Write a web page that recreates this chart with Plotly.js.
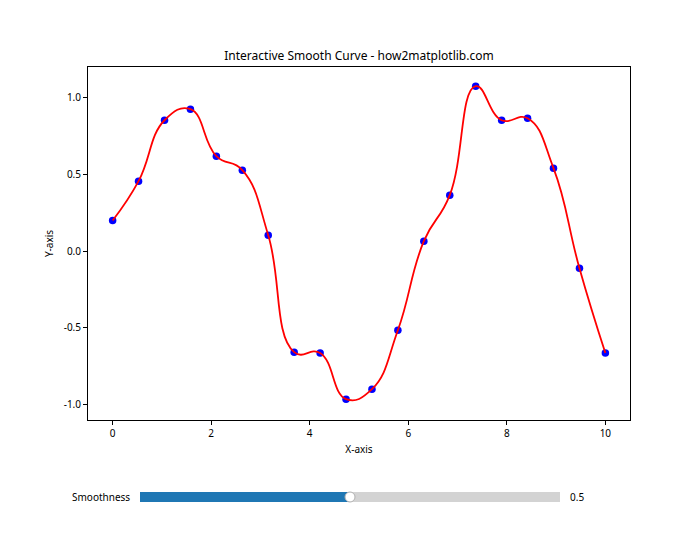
<!DOCTYPE html>
<html>
<head>
<meta charset="utf-8">
<script src="https://cdn.plot.ly/plotly-3.0.1.min.js"></script>
<style>
  html, body { margin: 0; padding: 0; background: #fff; }
  #chart { width: 700px; height: 560px; }
</style>
</head>
<body>
<div id="chart"></div>
<script>
// ---- data ----
const xValues = [0, 0.526, 1.053, 1.579, 2.105, 2.632, 3.158, 3.684, 4.211, 4.737,
                 5.263, 5.789, 6.316, 6.842, 7.368, 7.895, 8.421, 8.947, 9.474, 10];
const yValues = [0.20, 0.456, 0.853, 0.925, 0.619, 0.528, 0.104, -0.658, -0.664, -0.964,
                 -0.899, -0.515, 0.065, 0.365, 1.075, 0.853, 0.866, 0.541, -0.111, -0.664];
const xTicks = [0, 2, 4, 6, 8, 10];
const yTicks = [-1.0, -0.5, 0.0, 0.5, 1.0];
const sliderLabel = "Smoothness";
const sliderMin = 0;
const sliderMax = 1;
const sliderValue = 0.5;

const FONT = "Noto Sans, Liberation Sans, sans-serif";

const traces = [
  {
    x: xValues, y: yValues, type: "scatter", mode: "markers",
    marker: { color: "blue", size: 7.5 },
    xaxis: "x", yaxis: "y", showlegend: false, hoverinfo: "skip"
  },
  {
    x: xValues, y: yValues, type: "scatter", mode: "lines",
    line: { color: "red", width: 1.8, shape: "spline", smoothing: 1.3 },
    xaxis: "x", yaxis: "y", showlegend: false, hoverinfo: "skip"
  },
  {
    x: [sliderValue], y: [0.5], type: "scatter", mode: "markers",
    marker: { color: "white", size: 10, line: { color: "#b0b0b0", width: 1 } },
    xaxis: "x2", yaxis: "y2", showlegend: false, hoverinfo: "skip", cliponaxis: false
  }
];

const layout = {
  width: 700, height: 560,
  paper_bgcolor: "white", plot_bgcolor: "white",
  margin: { l: 88, r: 70, t: 67, b: 50 },
  font: { family: FONT, size: 10, color: "black" },
  title: {
    text: "Interactive Smooth Curve - how2matplotlib.com",
    font: { family: FONT, size: 12, color: "black" },
    xref: "paper", x: 0.5, xanchor: "center", y: 1 - 56 / 560, yanchor: "middle"
  },
  xaxis: {
    domain: [0, 1], anchor: "y",
    range: [-0.5, 10.5],
    tickvals: xTicks, ticktext: xTicks.map(v => String(v)),
    ticks: "outside", ticklen: 4, tickwidth: 1, tickcolor: "black",
    showline: true, linecolor: "black", linewidth: 1, mirror: true,
    showgrid: false, zeroline: false,
    tickfont: { family: FONT, size: 10, color: "black" },
    title: { text: "X-axis", font: { family: FONT, size: 10, color: "black" }, standoff: 6 }
  },
  yaxis: {
    domain: [(510 - 420) / 443, 1], anchor: "x",
    range: [-1.10, 1.20],
    tickvals: yTicks, ticktext: yTicks.map(v => v.toFixed(1)),
    ticks: "outside", ticklen: 4, tickwidth: 1, tickcolor: "black",
    showline: true, linecolor: "black", linewidth: 1, mirror: true,
    showgrid: false, zeroline: false,
    tickfont: { family: FONT, size: 10, color: "black" },
    title: { text: "Y-axis", font: { family: FONT, size: 10, color: "black" }, standoff: 8 }
  },
  xaxis2: {
    domain: [(140 - 88) / 542, (560 - 88) / 542], anchor: "y2",
    range: [sliderMin, sliderMax], visible: false, fixedrange: true
  },
  yaxis2: {
    domain: [(510 - 502) / 443, (510 - 492) / 443], anchor: "x2",
    range: [0, 1], visible: false, fixedrange: true
  },
  shapes: [
    { type: "rect", xref: "x2", yref: "y2", x0: sliderMin, x1: sliderMax, y0: 0, y1: 1,
      fillcolor: "lightgrey", line: { width: 0 }, layer: "below" },
    { type: "rect", xref: "x2", yref: "y2", x0: sliderMin, x1: sliderValue, y0: 0, y1: 1,
      fillcolor: "#1f77b4", line: { width: 0 }, layer: "below" }
  ],
  annotations: [
    { text: sliderLabel, xref: "x2 domain", yref: "y2 domain", x: 0, y: 0.5,
      xanchor: "right", yanchor: "middle", xshift: -8, showarrow: false,
      font: { family: FONT, size: 10, color: "black" } },
    { text: sliderValue.toFixed(1), xref: "x2 domain", yref: "y2 domain", x: 1, y: 0.5,
      xanchor: "left", yanchor: "middle", xshift: 8, showarrow: false,
      font: { family: FONT, size: 10, color: "black" } }
  ]
};

Plotly.newPlot("chart", traces, layout, { staticPlot: true, displayModeBar: false });
</script>
</body>
</html>
